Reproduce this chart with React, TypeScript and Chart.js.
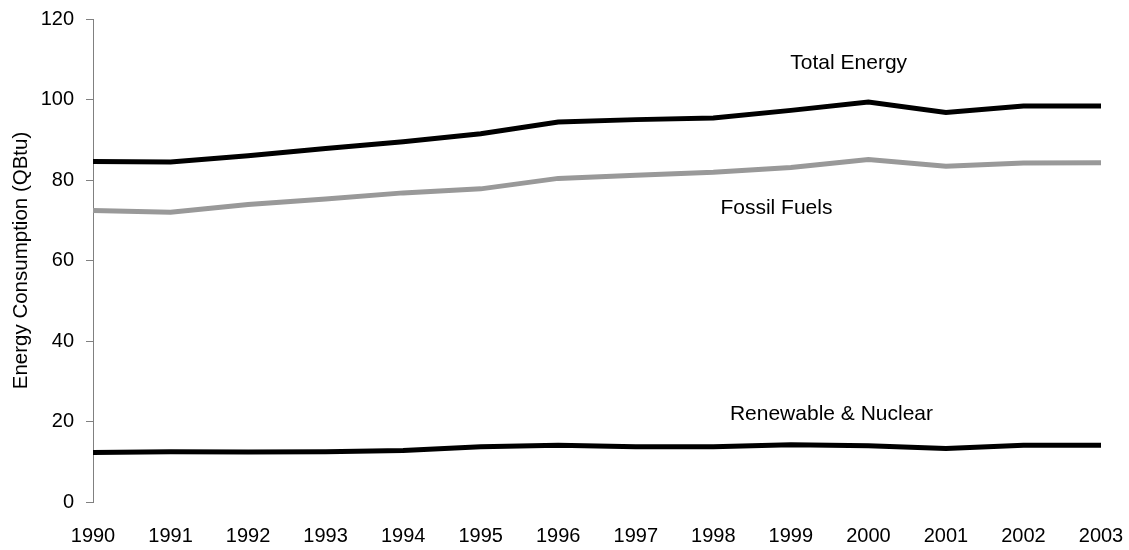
import React, { useEffect, useRef } from "react";
import { Chart, registerables } from "chart.js";

Chart.register(...registerables);

const years = ["1990", "1991", "1992", "1993", "1994", "1995", "1996", "1997", "1998", "1999", "2000", "2001", "2002", "2003"];
const totalEnergy = [84.6, 84.5, 86.0, 87.8, 89.5, 91.5, 94.4, 95.0, 95.4, 97.3, 99.4, 96.8, 98.4, 98.4];
const fossilFuels = [72.4, 72.0, 73.9, 75.3, 76.8, 77.8, 80.4, 81.2, 81.9, 83.1, 85.1, 83.4, 84.2, 84.3];
const renewableNuclear = [12.3, 12.5, 12.4, 12.5, 12.8, 13.7, 14.1, 13.7, 13.7, 14.2, 14.0, 13.3, 14.1, 14.1];

const seriesNames = ["Total Energy", "Fossil Fuels", "Renewable & Nuclear"];
// label anchor positions in data units: [category index, value at text baseline]
const labelAnchorX = [9.746, 8.814, 9.524];
const labelAnchorY = [107.5, 71.5, 20.4];

const yTitle = "Energy Consumption (QBtu)";
const FONT = "'Liberation Sans', Arial, sans-serif";

const seriesLabelsPlugin = {
  id: "seriesLabels",
  afterDatasetsDraw(chart: any) {
    const { ctx, scales } = chart;
    ctx.save();
    ctx.font = `21px ${FONT}`;
    ctx.fillStyle = "#000";
    ctx.textAlign = "center";
    ctx.textBaseline = "alphabetic";
    seriesNames.forEach((name, i) => {
      const x = scales.x.getPixelForValue(labelAnchorX[i]);
      const y = scales.y.getPixelForValue(labelAnchorY[i]);
      ctx.fillText(name, x, y);
    });
    ctx.restore();
  },
};

export default function App() {
  const ref = useRef<HTMLCanvasElement | null>(null);
  useEffect(() => {
    if (!ref.current) return;
    const chart = new Chart(ref.current, {
      type: "line",
      data: {
        labels: years,
        datasets: [
          { label: seriesNames[0], data: totalEnergy, borderColor: "#000000", borderWidth: 5, pointRadius: 0, tension: 0, fill: false },
          { label: seriesNames[1], data: fossilFuels, borderColor: "#999999", borderWidth: 5, pointRadius: 0, tension: 0, fill: false },
          { label: seriesNames[2], data: renewableNuclear, borderColor: "#000000", borderWidth: 5, pointRadius: 0, tension: 0, fill: false },
        ],
      },
      options: {
        animation: false,
        responsive: false,
        maintainAspectRatio: false,
        layout: { padding: { left: 0, top: 19, right: 28, bottom: 0 } },
        plugins: { legend: { display: false }, tooltip: { enabled: false } },
        scales: {
          x: {
            type: "category",
            offset: false,
            grid: { display: false, drawTicks: false },
            border: { display: false },
            ticks: { color: "#000", font: { family: FONT, size: 20 }, padding: 22, autoSkip: false, maxRotation: 0 },
            afterFit: (s: any) => { s.height = 48; s.paddingLeft = 0; s.paddingRight = 0; },
          },
          y: {
            min: 0,
            max: 120,
            grid: { display: true, drawOnChartArea: false, drawTicks: true, tickLength: 7, color: "#808080" },
            border: { display: true, color: "#808080", width: 1 },
            ticks: { stepSize: 20, color: "#000", font: { family: FONT, size: 20 }, padding: 12 },
            title: { display: true, text: yTitle, color: "#000", font: { family: FONT, size: 20.5 }, padding: { top: 9, bottom: 0 } },
            afterFit: (s: any) => { s.width = 93; s.paddingTop = 0; s.paddingBottom = 0; },
          },
        },
      },
      plugins: [seriesLabelsPlugin],
    });
    return () => chart.destroy();
  }, []);
  return (
    <div style={{ position: "absolute", left: 0, top: 0, width: 1129, height: 550, background: "#fff" }}>
      <canvas ref={ref} width={1129} height={550} style={{ display: "block", width: 1129, height: 550 }} />
    </div>
  );
}
